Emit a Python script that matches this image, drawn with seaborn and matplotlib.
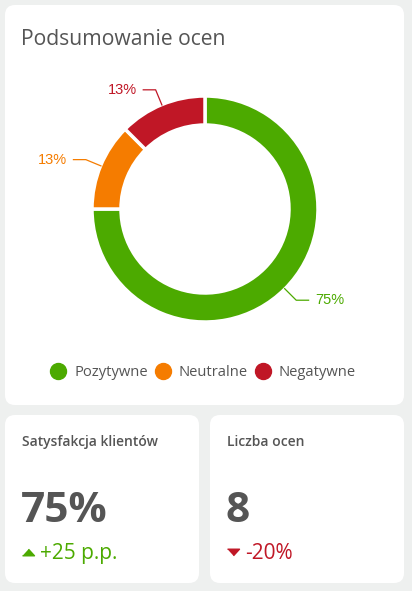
import numpy as np
import matplotlib
matplotlib.use("Agg")
import matplotlib.pyplot as plt
from matplotlib.patches import FancyBboxPatch
from matplotlib.lines import Line2D
import seaborn as sns

# Rating summary data
categories = ['Pozytywne', 'Neutralne', 'Negatywne']
counts = [6, 1, 1]
slice_colors = ['#4caa00', '#f57c00', '#c01726']

kpi_titles = ['Satysfakcja klientów', 'Liczba ocen']
kpi_values = ['75%', '8']
kpi_changes = ['+25 p.p.', '-20%']
kpi_change_up = [True, False]

sns.set_theme(style='white')
plt.rcParams['font.family'] = ['Open Sans', 'DejaVu Sans']
palette = sns.color_palette(slice_colors)

BG = '#eef0ef'
TXT = '#555555'
W, H = 412, 591

fig = plt.figure(figsize=(W / 100, H / 100), dpi=100, facecolor=BG)

# background axes in pixel coordinates (y downwards)
ax = fig.add_axes([0, 0, 1, 1])
ax.set_xlim(0, W)
ax.set_ylim(H, 0)
ax.axis('off')

cards = [(5, 5, 399, 400), (5, 415, 194, 168), (210, 415, 194, 168)]
for x, y, w, h in cards:
    ax.add_patch(FancyBboxPatch((x, y), w, h, boxstyle='round,pad=0,rounding_size=10',
                                facecolor='white', edgecolor='none'))

ax.text(21.5, 45, 'Podsumowanie ocen', fontsize=15.2, color=TXT, va='baseline', ha='left')

# donut chart
cx, cy = 205, 209
box = 300
dax = fig.add_axes([(cx - box / 2) / W, (H - cy - box / 2) / H, box / W, box / H])
dax.set_facecolor('none')
R = 1.13
wedges, _ = dax.pie(counts, colors=palette, startangle=90, counterclock=False, radius=R,
                    frame=True, wedgeprops=dict(width=0.29, edgecolor='white', linewidth=2.5))
dax.set_xlim(-1.5, 1.5)
dax.set_ylim(-1.5, 1.5)
dax.axis('off')

total = sum(counts)
for wdg, cnt, col in zip(wedges, counts, palette):
    ang = np.deg2rad((wdg.theta1 + wdg.theta2) / 2)
    ux, uy = np.cos(ang), np.sin(ang)
    x0, y0 = 1.12 * ux, 1.12 * uy
    x1, y1 = 1.29 * ux, 1.29 * uy
    side = 1 if ux >= 0 else -1
    x2 = x1 + side * 0.13
    dax.plot([x0, x1, x2], [y0, y1, y1], color=col, lw=0.9, solid_capstyle='butt')
    pct = int(np.floor(100 * cnt / total + 0.5))
    dax.text(x2 + side * 0.06, y1, f'{pct}%', color=col, fontsize=10.5,
             family=['Liberation Sans', 'DejaVu Sans'],
             ha='left' if side > 0 else 'right', va='center')

# legend
handles = [Line2D([], [], marker='o', ls='', markersize=11.5, color=c) for c in palette]
leg = ax.legend(handles, categories, loc='center', bbox_to_anchor=(203, 373),
                bbox_transform=ax.transData, ncol=3, frameon=False, fontsize=10.6,
                handlelength=1.1, handletextpad=0.55, columnspacing=0.45)
for t in leg.get_texts():
    t.set_color(TXT)

# KPI cards
up_tri = [(-1, -0.55), (1, -0.55), (0, 0.55)]
down_tri = [(-1, 0.55), (1, 0.55), (0, -0.55)]
for i, (x, y, w, h) in enumerate(cards[1:]):
    lx = x + 17
    ax.text(lx, 446, kpi_titles[i], fontsize=10, fontweight='semibold', color=TXT,
            va='baseline', ha='left')
    ax.text(lx - 1, 522, kpi_values[i], fontsize=30.5, fontweight='bold', color=TXT,
            va='baseline', ha='left')
    col = palette[0] if kpi_change_up[i] else palette[2]
    ax.plot([lx + 6], [551.5], marker=up_tri if kpi_change_up[i] else down_tri,
            markersize=8.6, color=col, ls='')
    ax.text(lx + 18, 559, kpi_changes[i], fontsize=15, color=col, va='baseline', ha='left')

fig.savefig('out.png', dpi=100, facecolor=BG)
